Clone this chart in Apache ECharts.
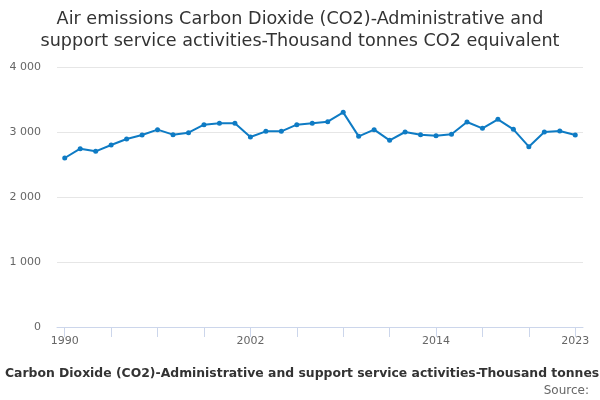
<!DOCTYPE html>
<html>
<head>
<meta charset="utf-8">
<script src="https://cdn.jsdelivr.net/npm/echarts@6/dist/echarts.min.js"></script>
<style>
  html, body { margin: 0; padding: 0; background: #fff; }
  #chart { width: 600px; height: 400px; }
</style>
</head>
<body>
<div id="chart"></div>
<script>
// years 1990..2023
var years = ['1990','1991','1992','1993','1994','1995','1996','1997','1998','1999',
             '2000','2001','2002','2003','2004','2005','2006','2007','2008','2009',
             '2010','2011','2012','2013','2014','2015','2016','2017','2018','2019',
             '2020','2021','2022','2023'];
// thousand tonnes CO2 equivalent
var co2 = [2600, 2743, 2703, 2800, 2892, 2954, 3036, 2959, 2990, 3113,
           3133, 3133, 2923, 3010, 3010, 3113, 3133, 3159, 3302, 2933,
           3036, 2872, 3000, 2959, 2943, 2964, 3154, 3056, 3195, 3041,
           2774, 3000, 3015, 2954];
var labelYears = ['1990', '2002', '2014', '2023'];
var yTicks = [0, 1000, 2000, 3000, 4000];

var font = 'DejaVu Sans';

function spaced(v) {
  return String(v).replace(/\B(?=(\d{3})+(?!\d))/g, ' ');
}

var myChart = echarts.init(document.getElementById('chart'));
var option = {
  animation: false,
  title: {
    text: 'Air emissions Carbon Dioxide (CO2)-Administrative and\nsupport service activities-Thousand tonnes CO2 equivalent',
    left: 'center',
    top: 3,
    textStyle: {
      fontFamily: font,
      fontSize: 17.6,
      fontWeight: 'normal',
      color: '#333',
      lineHeight: 22
    }
  },
  graphic: [
    {
      type: 'text',
      left: 5,
      top: 368,
      style: {
        text: 'Carbon Dioxide (CO2)-Administrative and support service activities-Thousand tonnes',
        font: 'bold 12.4px "DejaVu Sans"',
        fill: '#333'
      }
    },
    {
      type: 'text',
      right: 11,
      top: 385,
      style: {
        text: 'Source:',
        font: '12px "DejaVu Sans"',
        fill: '#666'
      }
    }
  ],
  grid: {
    left: 57,
    right: 17,
    top: 67,
    bottom: 73
  },
  xAxis: {
    type: 'category',
    data: years,
    boundaryGap: true,
    axisLine: { show: true, lineStyle: { color: '#ccd6eb' } },
    axisTick: {
      show: true,
      alignWithLabel: true,
      length: 10,
      interval: 2,
      lineStyle: { color: '#ccd6eb', width: 1 }
    },
    axisLabel: {
      interval: function (index, value) { return labelYears.indexOf(value) !== -1; },
      fontFamily: font,
      fontSize: 11,
      color: '#666',
      margin: 9
    },
    splitLine: { show: false }
  },
  yAxis: {
    type: 'value',
    min: yTicks[0],
    max: yTicks[yTicks.length - 1],
    interval: 1000,
    axisLine: { show: false },
    axisTick: { show: false },
    axisLabel: {
      formatter: spaced,
      fontFamily: font,
      fontSize: 11,
      color: '#666',
      margin: 16
    },
    splitLine: { lineStyle: { color: '#e6e6e6' } }
  },
  series: [
    {
      name: 'CO2',
      type: 'line',
      data: co2,
      symbol: 'circle',
      symbolSize: 5,
      lineStyle: { width: 2, color: '#0e7bc4' },
      itemStyle: { color: '#0e7bc4' }
    }
  ]
};
myChart.setOption(option);
window.onresize = myChart.resize;
</script>
</body>
</html>
